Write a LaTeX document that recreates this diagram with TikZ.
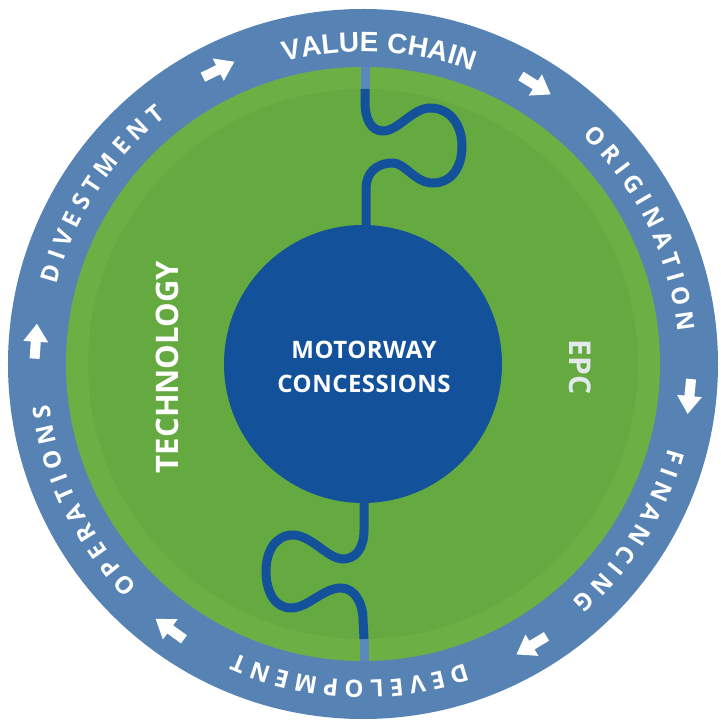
\documentclass[tikz,border=0pt]{standalone}
\usepackage{fontspec}
\setmainfont{Open Sans}
\newfontfamily\vcfont{Liberation Sans}
\definecolor{ringblue}{HTML}{5683B4}
\definecolor{greenout}{HTML}{6CB045}
\definecolor{greenin}{HTML}{65AA41}
\definecolor{coreblue}{HTML}{13529B}
\definecolor{linelight}{HTML}{5B89BB}
\definecolor{epcgray}{HTML}{E2E8EC}
\newdimen\rl
% measure outside the picture: #1 name, #2 centre angle, #3 radius, #4 font, #5 tracking, #6 letters
\newcommand\ringprep[6]{%
  \xdef\rtot{0}%
  \foreach \ltr in {#6}{\setbox0=\hbox{#4\ltr}\rl=\wd0 \pgfmathsetmacro\rtmp{\rtot+\the\rl+#5}\xdef\rtot{\rtmp}}%
  \pgfmathsetmacro\rtmp{\rtot-#5}\xdef\rtot{\rtmp}%
  \xdef\rcum{0}%
  \foreach \ltr [count=\i] in {#6}{%
    \setbox0=\hbox{#4\ltr}\rl=\wd0 %
    \pgfmathsetmacro\ang{#2+(\rtot/2-\rcum-\the\rl/2)/#3*180/pi}%
    \expandafter\xdef\csname ra@#1@\i\endcsname{\ang}%
    \pgfmathsetmacro\rtmp{\rcum+\the\rl+#5}\xdef\rcum{\rtmp}%
  }%
}
% draw inside the picture: #1 name, #2 radius, #3 font, #4 letters
\newcommand\ringdraw[4]{%
  \foreach \ltr [count=\i] in {#4}{%
    \pgfmathsetmacro\ang{\csname ra@#1@\i\endcsname}%
    \node[ringletter, font=#3, rotate=\ang-90] (#1-\i) at (\ang:#2pt) {\ltr};%
  }%
}
\def\rf{\bfseries\fontsize{24}{24}\selectfont}
\def\vf{\vcfont\bfseries\fontsize{28}{28}\selectfont}
\tikzset{
  ringletter/.style={inner sep=0pt, text=white, anchor=center},
  wave/.style={draw=coreblue, line width=9pt},
  wavelight/.style={draw=linelight, line width=9pt},
  blockarrow/.pic={\fill[white] (-17,-5) -- (0,-5) -- (0,-12.5) -- (18,0) -- (0,12.5) -- (0,5) -- (-17,5) -- cycle;}
}
\begin{document}
\ringprep{vc}{87}{322}{\vf}{0.6}{V,A,L,U,E,~,C,H,A,I,N}%
\ringprep{or}{26}{325}{\rf}{6.4}{O,R,I,G,I,N,A,T,I,O,N}%
\ringprep{fi}{-32}{325}{\rf}{6.4}{F,I,N,A,N,C,I,N,G}%
\ringprep{de}{-92.5}{325}{\rf}{6.4}{D,E,V,E,L,O,P,M,E,N,T}%
\ringprep{op}{-154}{325}{\rf}{6.4}{O,P,E,R,A,T,I,O,N,S}%
\ringprep{di}{147}{325}{\rf}{6.4}{D,I,V,E,S,T,M,E,N,T}%
\begin{tikzpicture}[x=1pt,y=1pt]
\fill[white] (-363,-358) rectangle (357,364);
\useasboundingbox (-363,-358) rectangle (357,364);
\fill[ringblue] (0,0) circle[radius=355];
\fill[greenout] (0,0) circle[radius=297];
\fill[greenin] (0,0) circle[radius=275];
% top wave
\draw[wavelight] (2,297) -- (2,275);
\draw[wave] (2,275) -- (2,262)
  .. controls (2,245) and (8,233) .. (20,233)
  .. controls (35,233) and (50,256) .. (67,256)
  .. controls (88,256) and (99,238) .. (99,218)
  .. controls (99,196) and (88,181) .. (70,181)
  .. controls (52,181) and (42,201) .. (30,201)
  .. controls (12,201) and (3,190) .. (3,175)
  -- (3,120);
% bottom wave
\draw[wavelight] (1,-275) -- (1,-297);
\draw[wave] (1,-120) -- (1,-166)
  .. controls (1,-185) and (-8,-195) .. (-20,-195)
  .. controls (-35,-195) and (-52,-171) .. (-70,-171)
  .. controls (-88,-171) and (-97,-188) .. (-97,-207)
  .. controls (-97,-228) and (-88,-244) .. (-72,-244)
  .. controls (-55,-244) and (-40,-224) .. (-22,-224)
  .. controls (-8,-224) and (0,-240) .. (0,-255)
  -- (1,-275);
\node[circle, fill=coreblue, minimum size=278pt, inner sep=0pt] (core) at (0,0) {};
\node[text=white, align=center, font=\bfseries\fontsize{24}{34}\selectfont\addfontfeatures{LetterSpace=2}] (title) at (1,-3) {MOTORWAY\\CONCESSIONS};
\node[text=white, rotate=90, font=\bfseries\fontsize{31}{31}\selectfont] (tech) at (-196,-3) {TECHNOLOGY};
\node[text=epcgray, rotate=-90, font=\bfseries\fontsize{30}{30}\selectfont] (epc) at (217,-3) {EPC};
\ringdraw{vc}{322}{\vf}{V,A,L,U,E,~,C,H,A,I,N}
\ringdraw{or}{325}{\rf}{O,R,I,G,I,N,A,T,I,O,N}
\ringdraw{fi}{325}{\rf}{F,I,N,A,N,C,I,N,G}
\ringdraw{de}{325}{\rf}{D,E,V,E,L,O,P,M,E,N,T}
\ringdraw{op}{325}{\rf}{O,P,E,R,A,T,I,O,N,S}
\ringdraw{di}{325}{\rf}{D,I,V,E,S,T,M,E,N,T}
\foreach \a in {116.2,58.3,-5.6,-59,-126,176.1}
  \pic[rotate=\a-90] at (\a:328pt) {blockarrow};
\end{tikzpicture}
\end{document}
